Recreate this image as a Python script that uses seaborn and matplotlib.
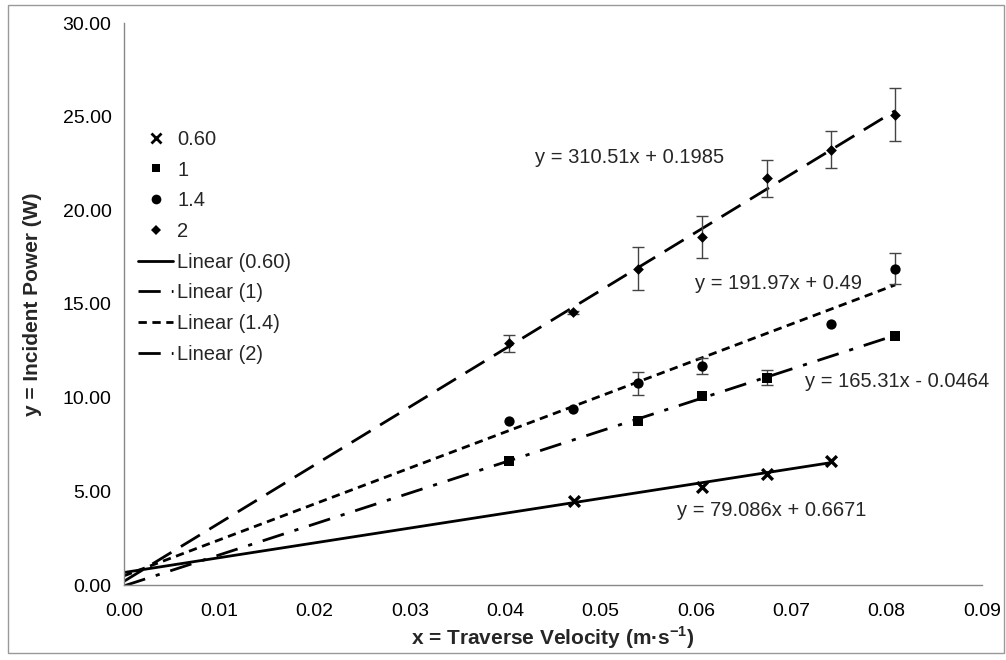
import numpy as np
import pandas as pd
import seaborn as sns
import matplotlib
matplotlib.use('Agg')
import matplotlib.pyplot as plt
from matplotlib.patches import Rectangle
from matplotlib.lines import Line2D

# series labels
series = ['0.60', '1', '1.4', '2']

# measured points (x = traverse velocity, y = incident power)
x_060 = [0.0472, 0.0606, 0.0674, 0.0742]
y_060 = [4.50, 5.25, 5.93, 6.62]
e_060 = [0, 0, 0, 0]

x_1 = [0.0404, 0.0539, 0.0606, 0.0674, 0.0809]
y_1 = [6.62, 8.76, 10.11, 11.07, 13.29]
e_1 = [0, 0, 0, 0.42, 0]

x_14 = [0.0404, 0.0471, 0.0539, 0.0606, 0.0742, 0.0809]
y_14 = [8.76, 9.41, 10.76, 11.69, 13.92, 16.89]
e_14 = [0, 0, 0.63, 0.43, 0, 0.82]

x_2 = [0.0404, 0.0471, 0.0539, 0.0606, 0.0674, 0.0742, 0.0809]
y_2 = [12.90, 14.56, 16.89, 18.60, 21.71, 23.23, 25.11]
e_2 = [0.45, 0.08, 1.15, 1.12, 0.98, 0.98, 1.41]

# trendline coefficients as shown on the chart
slopes = [79.086, 165.31, 191.97, 310.51]
intercepts = [0.6671, -0.0464, 0.49, 0.1985]
equations = ['y = 79.086x + 0.6671', 'y = 165.31x - 0.0464',
             'y = 191.97x + 0.49', 'y = 310.51x + 0.1985']

xs = [x_060, x_1, x_14, x_2]
ys = [y_060, y_1, y_14, y_2]
es = [e_060, e_1, e_14, e_2]

sns.set_style('white')
plt.rcParams['font.family'] = ['Liberation Sans', 'DejaVu Sans']

markers = ['x', 's', 'o', 'D']
msizes = [60, 45, 55, 30]
dashes = ['-', (0, (8, 4, 1.5, 4)), (0, (3, 2)), (0, (8, 4))]

fig = plt.figure(figsize=(10.06, 6.6), dpi=100)
ax = fig.add_axes([124 / 1006, 75 / 660, 858 / 1006, 562 / 660])

# trendlines from x=0 to the last measured point
for i, lab in enumerate(series):
    xl = np.array([0.0, max(xs[i])])
    line_df = pd.DataFrame({'x': xl, 'y': slopes[i] * xl + intercepts[i]})
    sns.lineplot(data=line_df, x='x', y='y', ax=ax, color='black',
                 linewidth=2.0, linestyle=dashes[i], legend=False)

# error bars and markers
for i, lab in enumerate(series):
    e = np.array(es[i])
    mask = e > 0
    if mask.any():
        ax.errorbar(np.array(xs[i])[mask], np.array(ys[i])[mask], yerr=e[mask],
                    fmt='none', ecolor='#444444', elinewidth=1.0, capsize=4,
                    capthick=1.0, zorder=3)
    df = pd.DataFrame({'x': xs[i], 'y': ys[i]})
    sns.scatterplot(data=df, x='x', y='y', ax=ax, marker=markers[i],
                    s=msizes[i], color='black',
                    linewidth=2.4 if markers[i] == 'x' else 0, zorder=4,
                    legend=False)

ax.set_xlim(0, 0.09)
ax.set_ylim(0, 30)
ax.set_xticks(np.arange(0, 0.0901, 0.01))
ax.set_yticks(np.arange(0, 30.01, 5))
ax.set_xticklabels([f'{v:.2f}' for v in np.arange(0, 0.0901, 0.01)])
ax.set_yticklabels([f'{v:.2f}' for v in np.arange(0, 30.01, 5)])
ax.tick_params(axis='both', labelsize=14, colors='#888888', labelcolor='black',
               direction='out', length=5, width=1)
ax.tick_params(axis='x', pad=8)
ax.tick_params(axis='y', pad=4)
for s in ['top', 'right']:
    ax.spines[s].set_visible(False)
for s in ['left', 'bottom']:
    ax.spines[s].set_color('#888888')
    ax.spines[s].set_linewidth(1)

ax.set_xlabel(r'x = Traverse Velocity (m·s$^{\mathregular{-1}}$)', fontsize=15,
              fontweight='bold', labelpad=3)
ax.set_ylabel('y = Incident Power (W)', fontsize=15, fontweight='bold', labelpad=15)

# equation labels
ax.text(0.0431, 22.8, equations[3], fontsize=14.5, va='center')
ax.text(0.0599, 16.12, equations[2], fontsize=14.5, va='center')
ax.text(0.0714, 10.84, equations[1], fontsize=14.5, va='center')
ax.text(0.0580, 4.0, equations[0], fontsize=14.5, va='center')

# legend
handles = []
for i, lab in enumerate(series):
    handles.append(Line2D([], [], linestyle='none', marker=markers[i], color='black',
                          markersize=[7, 6, 7, 5][i], markeredgewidth=2 if i == 0 else 0,
                          label=lab))
for i, lab in enumerate(series):
    handles.append(Line2D([], [], color='black', linewidth=2.0, linestyle=dashes[i],
                          label=f'Linear ({lab})'))
ax.legend(handles=handles, loc='upper left', bbox_to_anchor=(0.0, 0.835),
          frameon=False, fontsize=14.5, handlelength=1.75, handletextpad=0.2,
          labelspacing=0.58, borderaxespad=0.3)

# outer chart border
fig.patches.append(Rectangle((8 / 1006, 7 / 660), 996 / 1006, 648 / 660,
                             transform=fig.transFigure, fill=False,
                             edgecolor='#999999', linewidth=1))

fig.savefig('out.png', dpi=100)
plt.close(fig)
